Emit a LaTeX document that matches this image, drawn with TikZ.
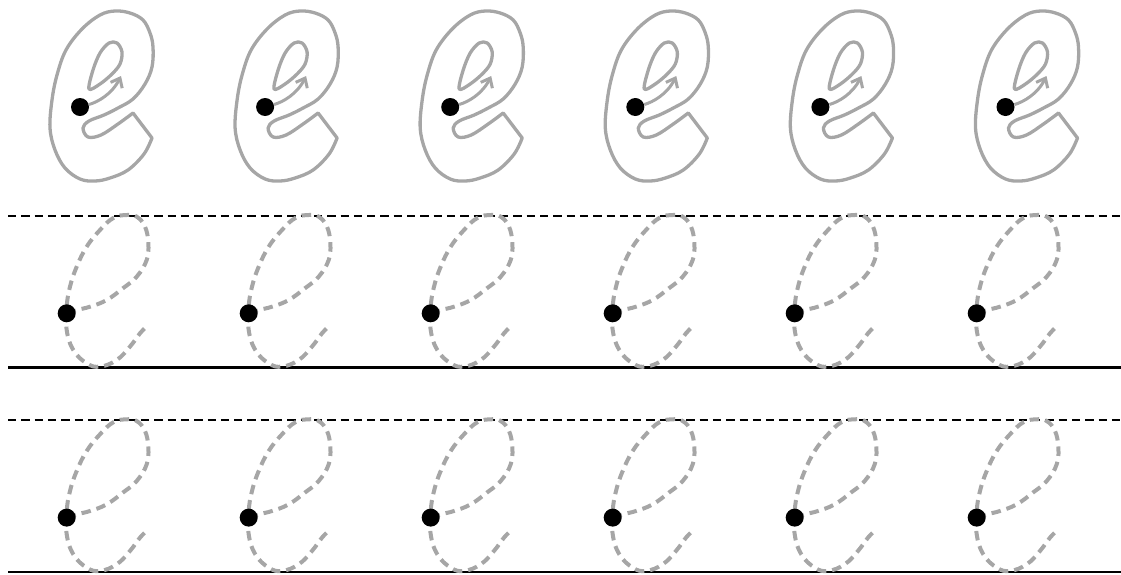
\documentclass[tikz,border=0pt]{standalone}
\usetikzlibrary{arrows.meta}
\definecolor{eg}{RGB}{166,166,166}
\begin{document}
\begin{tikzpicture}[x=1pt,y=-1pt,
  guide/.style={black,line width=2.4pt},
  guidedash/.style={black,line width=2.4pt,dash pattern=on 8.3pt off 5pt},
  outl/.style={eg,line width=3.3pt,line join=round},
  tracee/.style={eg,line width=4pt,dash pattern=on 9.5pt off 6pt},
  startdot/.style={circle,fill=black,inner sep=0pt,minimum size=18pt},
  arr/.style={eg,line width=3pt,-{Straight Barb[length=8pt,width=13pt]}}]
\useasboundingbox (0,0) rectangle (1121,574);
% guide lines
\coordinate (g1a) at (8,215.7);   \coordinate (g1b) at (1121,215.7);
\coordinate (g2a) at (8,367.5);   \coordinate (g2b) at (1121,367.5);
\coordinate (g3a) at (8,420);     \coordinate (g3b) at (1121,420);
\coordinate (g4a) at (8,571.8);   \coordinate (g4b) at (1121,571.8);
\draw[guidedash] (g1a) -- (g1b);
\draw[guide] (g2a) -- (g2b);
\draw[guidedash] (g3a) -- (g3b);
\draw[guide] (g4a) -- (g4b);
% top row: outlined letters
\foreach \i in {0,...,5}{
  \begin{scope}[shift={(185.1*\i,0)}]
    \draw[outl] plot[smooth,tension=0.6] coordinates {(152,138) (144,154) (128,170) (110,178) (95,181) (80,179) (65,168) (55,150) (50,128) (52,100) (57,75) (66,50) (82,29) (100,15) (115,11) (130,13) (143,20) (150,33) (153,47) (152,67) (145,84) (133,99) (118,108) (104,115) (89,121) (83,128) (88,137) (101,135) (118,124) (133,113)} -- cycle;
    \draw[outl] plot[smooth cycle,tension=0.55] coordinates {(89,89) (93,70) (100,53) (109,43) (117,43) (122,52) (120,64) (112,74) (100,84)};
    \node[startdot] (t\i) at (80,107) {};
    \draw[arr] (t\i) .. controls (98,102) and (112,94) .. (121,76);
  \end{scope}
}
% dashed tracing rows
\foreach \r/\yy in {a/313.3,b/517.6}{
  \foreach \i in {0,...,5}{
    \begin{scope}[shift={(66.7+182*\i,\yy)}]
      \draw[tracee] plot[smooth,tension=0.7] coordinates {(0,0) (10,-3.3) (23.3,-6.6) (40,-13.3) (56.6,-25.3) (70,-36.6) (80,-53.3) (81.6,-70.3) (78.3,-86.6) (70,-96.6) (60,-98.3) (46.6,-95.3) (33.3,-83.3) (20,-66.6) (10,-46.6) (3.3,-26.6) (0,-6.6) (0,16.7) (6.6,36.7) (20,50) (33.3,53.3) (50,46.7) (63.3,33.3) (73.3,20) (80,13.3)};
      \node[startdot] (d\r\i) at (0,0) {};
    \end{scope}
  }
}
\end{tikzpicture}
\end{document}
